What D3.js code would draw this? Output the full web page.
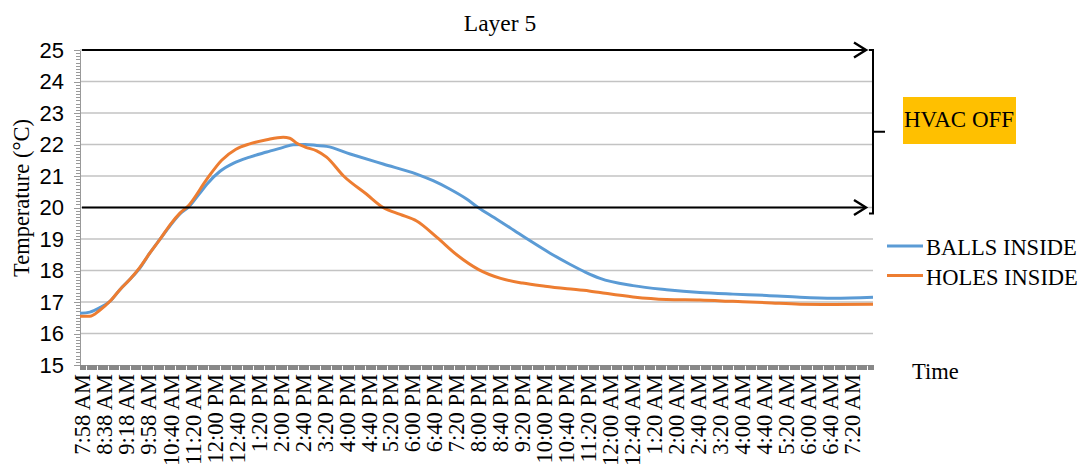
<!DOCTYPE html>
<html>

<head>
	<meta charset="utf-8">
	<script src="https://d3js.org/d3.v7.min.js"></script>
	<style>
		body {
			margin: 0;
			background: #fff;
		}

		svg {
			display: block;
			font-family: "Liberation Serif", "Times New Roman", serif;
		}

		.grid line {
			stroke: #c3c3c3;
			stroke-width: 1.3;
		}

		.axis path,
		.axis line {
			stroke: #999;
			shape-rendering: crispEdges;
		}

		.axis text {
			font-size: 22px;
			fill: #000;
		}

		.annot {
			stroke: #000;
			fill: none;
		}
	</style>
</head>

<body>
	<div id="chart_container">
	</div>

	<script>
		// minutes are counted from this clock time
		var startTime = "7:54 AM";

		var timeLabels = [
			"7:58 AM", "8:38 AM", "9:18 AM", "9:58 AM", "10:40 AM", "11:20 AM",
			"12:00 PM", "12:40 PM", "1:20 PM", "2:00 PM", "2:40 PM", "3:20 PM",
			"4:00 PM", "4:40 PM", "5:20 PM", "6:00 PM", "6:40 PM", "7:20 PM",
			"8:00 PM", "8:40 PM", "9:20 PM", "10:00 PM", "10:40 PM", "11:20 PM",
			"12:00 AM", "12:40 AM", "1:20 AM", "2:00 AM", "2:40 AM", "3:20 AM",
			"4:00 AM", "4:40 AM", "5:20 AM", "6:00 AM", "6:40 AM", "7:20 AM"
		];

		// [minutes since start, temperature °C]
		var ballsInside = [
			[0, 16.64], [18, 16.68], [36, 16.82], [55, 17.03], [73, 17.4], [91, 17.72],
			[109, 18.08], [127, 18.55], [146, 19.0], [164, 19.42], [182, 19.8], [197, 20.0],
			[218, 20.45], [231, 20.74], [255, 21.15], [279, 21.4], [309, 21.6], [340, 21.76],
			[370, 21.91], [388, 21.99], [410, 22.0], [431, 21.97], [449, 21.94], [492, 21.7],
			[552, 21.38], [613, 21.06], [643, 20.85], [674, 20.58], [704, 20.27], [725, 20.0],
			[754, 19.68], [783, 19.36], [819, 18.95], [856, 18.55], [892, 18.2], [920, 17.95],
			[947, 17.75], [1007, 17.52], [1068, 17.39], [1129, 17.3], [1189, 17.25], [1250, 17.21],
			[1311, 17.15], [1372, 17.12], [1444, 17.15]
		];

		var holesInside = [
			[0, 16.55], [18, 16.55], [36, 16.74], [55, 17.03], [73, 17.4], [91, 17.72],
			[109, 18.1], [127, 18.55], [146, 19.0], [164, 19.45], [182, 19.82], [197, 20.05],
			[231, 20.9], [258, 21.5], [284, 21.85], [309, 22.02], [340, 22.15], [370, 22.23],
			[382, 22.2], [394, 22.05], [410, 21.92], [431, 21.8], [449, 21.6], [480, 21.0],
			[522, 20.42], [552, 20.0], [583, 19.78], [613, 19.57], [650, 19.05], [686, 18.5],
			[726, 18.03], [766, 17.75], [806, 17.6], [847, 17.5], [887, 17.42], [927, 17.35],
			[947, 17.3], [1007, 17.16], [1068, 17.08], [1129, 17.06], [1189, 17.02], [1250, 16.98],
			[1311, 16.93], [1372, 16.92], [1444, 16.93]
		];

		var yTicks = [15, 16, 17, 18, 19, 20, 21, 22, 23, 24, 25];
		var seriesNames = ["BALLS INSIDE", "HOLES INSIDE"];
		var seriesColors = ["#5b9bd5", "#ed7d31"];
		var hvacOffRange = [20, 25];
		var hvacOffText = "HVAC OFF";

		var margin = {
			top: 50,
			right: 217,
			bottom: 99,
			left: 80
		};
		var width = 1090 - margin.left - margin.right,
			height = 464 - margin.top - margin.bottom;

		function clockMinutes(s) {
			var parts = s.split(" ");
			var hm = parts[0].split(":");
			var h = +hm[0] % 12;
			if (parts[1] == "PM") h += 12;
			return h * 60 + (+hm[1]);
		}

		function sinceStart(s) {
			var m = clockMinutes(s) - clockMinutes(startTime);
			return m < 0 ? m + 1440 : m;
		}

		var allPoints = ballsInside.concat(holesInside);
		var x = d3.scaleLinear()
			.domain(d3.extent(allPoints, function(d) {
				return d[0];
			}))
			.range([0, width]);

		var y = d3.scaleLinear()
			.domain(d3.extent(yTicks))
			.range([height, 0]);

		var svg = d3.select("#chart_container")
			.append("svg")
			.attr("width", 1090)
			.attr("height", 464);

		svg.append("text")
			.attr("x", 500)
			.attr("y", 31)
			.attr("text-anchor", "middle")
			.style("font-size", "23.5px")
			.text("Layer 5");

		var g = svg.append("g")
			.attr("transform", "translate(" + margin.left + "," + margin.top + ")");

		// horizontal grid
		g.append("g")
			.attr("class", "grid")
			.selectAll("line")
			.data(yTicks.slice(1))
			.enter()
			.append("line")
			.attr("x1", 0)
			.attr("x2", width)
			.attr("y1", function(d) {
				return y(d);
			})
			.attr("y2", function(d) {
				return y(d);
			});

		// minor ticks
		var minorY = d3.range(15, 25.001, 0.1).map(function(d) {
			return +d.toFixed(1);
		});
		g.append("g")
			.attr("class", "axis")
			.call(d3.axisLeft(y).tickValues(minorY).tickSize(4).tickFormat("").tickSizeOuter(0));

		g.append("g")
			.attr("class", "axis")
			.call(d3.axisLeft(y).tickValues(yTicks).tickSize(6).tickPadding(10).tickSizeOuter(0));

		var minorX = d3.range(x.domain()[0], x.domain()[1] + 1, 2);
		g.append("g")
			.attr("class", "axis")
			.attr("transform", "translate(0," + height + ")")
			.call(d3.axisBottom(x).tickValues(minorX).tickSize(5).tickFormat("").tickSizeOuter(0))
			.selectAll("line")
			.style("stroke", "#888");

		// rotated time labels
		g.append("g")
			.selectAll("text")
			.data(timeLabels)
			.enter()
			.append("text")
			.attr("transform", function(d) {
				return "translate(" + x(sinceStart(d)) + "," + (height + 9) + ") rotate(-90)";
			})
			.attr("text-anchor", "end")
			.attr("dy", "0.34em")
			.style("font-size", "22.5px")
			.text(function(d) {
				return d;
			});

		svg.append("text")
			.attr("transform", "translate(29," + (margin.top + y(20.3)) + ") rotate(-90)")
			.attr("text-anchor", "middle")
			.style("font-size", "22.5px")
			.text("Temperature (°C)");

		svg.append("text")
			.attr("x", 912)
			.attr("y", 379)
			.style("font-size", "22.5px")
			.text("Time");

		var line = d3.line()
			.x(function(d) {
				return x(d[0]);
			})
			.y(function(d) {
				return y(d[1]);
			})
			.curve(d3.curveMonotoneX);

		g.selectAll("path.series")
			.data([ballsInside, holesInside])
			.enter()
			.append("path")
			.attr("class", "series")
			.attr("d", line)
			.attr("fill", "none")
			.attr("stroke-width", 3)
			.attr("stroke-linejoin", "round")
			.attr("stroke", function(d, i) {
				return seriesColors[i];
			});

		// HVAC OFF arrows and bracket
		var arrowEnd = width - 7;
		hvacOffRange.forEach(function(v) {
			g.append("line")
				.attr("class", "annot")
				.attr("x1", 2)
				.attr("x2", arrowEnd)
				.attr("y1", y(v))
				.attr("y2", y(v))
				.attr("stroke-width", 2);
			g.append("path")
				.attr("class", "annot")
				.attr("stroke-width", 2.4)
				.attr("d", "M" + (arrowEnd - 12) + "," + (y(v) - 7.5) + "L" + arrowEnd + "," + y(v) + "L" + (arrowEnd - 12) + "," + (y(v) + 7.5));
		});

		var bTop = y(hvacOffRange[1]),
			bBot = y(hvacOffRange[0]) + 6,
			bx = width;
		g.append("path")
			.attr("class", "annot")
			.attr("stroke-width", 2)
			.attr("d", "M" + (bx - 4) + "," + bTop + "H" + bx + "V" + bBot + "H" + (bx - 4) +
				"M" + bx + "," + ((bTop + bBot) / 2) + "h12");

		g.append("rect")
			.attr("x", 823)
			.attr("y", 47)
			.attr("width", 113)
			.attr("height", 47)
			.attr("fill", "#ffc000");

		g.append("text")
			.attr("x", 824)
			.attr("y", 77)
			.style("font-size", "23px")
			.text(hvacOffText);

		// legend
		var legend = svg.append("g")
			.attr("transform", "translate(887,246)");

		var items = legend.selectAll("g")
			.data(seriesNames)
			.enter()
			.append("g")
			.attr("transform", function(d, i) {
				return "translate(0," + (i * 29.5) + ")";
			});

		items.append("line")
			.attr("x1", 0)
			.attr("x2", 36)
			.attr("stroke-width", 3)
			.attr("stroke", function(d, i) {
				return seriesColors[i];
			});

		items.append("text")
			.attr("x", 39)
			.attr("y", 9)
			.style("font-size", "22.5px")
			.text(function(d) {
				return d;
			});
	</script>
</body>
</html>
